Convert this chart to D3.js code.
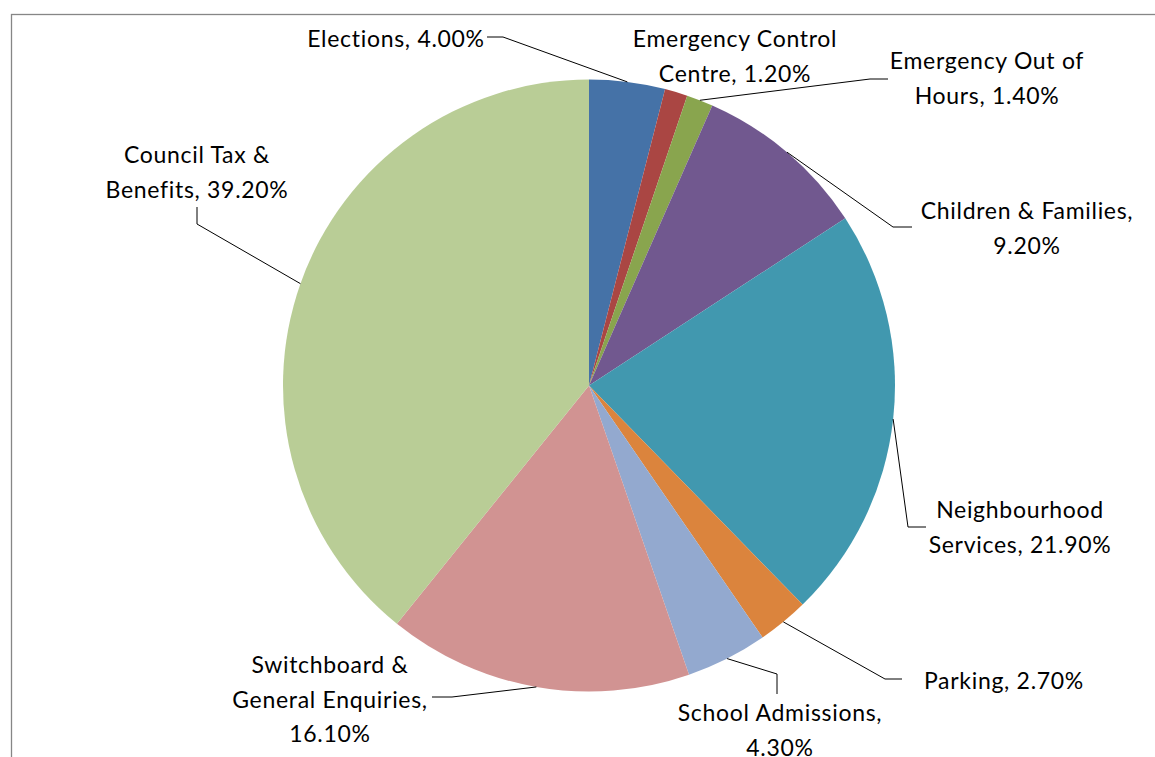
<!DOCTYPE html>
<html>
<head>
<meta charset="utf-8">
<script src="https://cdn.jsdelivr.net/npm/d3@7"></script>
<style>
  body { margin: 0; background: #fff; }
  svg { display: block; }
  text { font-family: Lato, "Open Sans", sans-serif; font-size: 23px; letter-spacing: 0.7px; fill: #000; }
</style>
</head>
<body>
<div id="chart"></div>
<script>
// service areas, in the order the slices run clockwise from 12 o'clock
const categories = ["Elections", "Emergency Control Centre", "Emergency Out of Hours",
  "Children & Families", "Neighbourhood Services", "Parking", "School Admissions",
  "Switchboard & General Enquiries", "Council Tax & Benefits"];
const shares = [4.0, 1.2, 1.4, 9.2, 21.9, 2.7, 4.3, 16.1, 39.2];
const labelLines = [
  ["Elections, 4.00%"],
  ["Emergency Control", "Centre, 1.20%"],
  ["Emergency Out of", "Hours, 1.40%"],
  ["Children & Families,", "9.20%"],
  ["Neighbourhood", "Services, 21.90%"],
  ["Parking, 2.70%"],
  ["School Admissions,", "4.30%"],
  ["Switchboard &", "General Enquiries,", "16.10%"],
  ["Council Tax &", "Benefits, 39.20%"]
];
const colors = ["#4572A7", "#AA4643", "#89A54E", "#71588F", "#4198AF",
  "#DB843D", "#93A9CF", "#D19392", "#B9CD96"];

// label placement: centre x, first line y, and leader [attach, elbow] points
const labelPos = [
  { x: 396, y: 39, lead: [[487, 37], [503, 37]] },
  { x: 735, y: 39, lead: null },
  { x: 987, y: 61, lead: [[888, 79], [870, 79]] },
  { x: 1027, y: 211, lead: [[912, 227], [893, 227]] },
  { x: 1020, y: 510, lead: [[926, 527], [908, 527]] },
  { x: 1004, y: 681, lead: [[902, 679], [885, 679]] },
  { x: 780, y: 713, lead: [[777, 694], [777, 674]] },
  { x: 330, y: 665, lead: [[432, 697], [452, 697]] },
  { x: 197, y: 155, lead: [[197, 207], [197, 224]] }
];

const width = 1155, height = 757;
const cx = 589, cy = 385.5, r = 306, lineH = 34.5;

const svg = d3.select("#chart").append("svg").attr("width", width).attr("height", height);

// chart frame (runs off the right and bottom of the picture)
svg.append("rect").attr("x", 11.5).attr("y", 14.5).attr("width", 1300).attr("height", 900)
  .attr("fill", "none").attr("stroke", "#868686").attr("stroke-width", 1.3);

const pie = d3.pie().sort(null).value(d => d);
const arcs = pie(shares);
const arc = d3.arc().innerRadius(0).outerRadius(r);
const edge = d3.arc().innerRadius(r).outerRadius(r);

const g = svg.append("g").attr("transform", `translate(${cx},${cy})`);
g.selectAll("path.slice")
  .data(arcs)
  .enter()
  .append("path")
  .attr("class", "slice")
  .attr("d", arc)
  .attr("fill", (d, i) => colors[i]);

// leader lines: label -> elbow -> middle of the slice edge
arcs.forEach((d, i) => {
  const p = labelPos[i];
  if (!p.lead) return;
  const c = edge.centroid(d);
  const pts = [p.lead[0], p.lead[1], [cx + c[0], cy + c[1]]];
  svg.append("path")
    .attr("d", d3.line()(pts))
    .attr("fill", "none")
    .attr("stroke", "#000")
    .attr("stroke-width", 1);
});

labelLines.forEach((lines, i) => {
  const p = labelPos[i];
  const t = svg.append("text").attr("text-anchor", "middle");
  lines.forEach((s, k) => {
    t.append("tspan")
      .attr("x", p.x)
      .attr("y", p.y + k * lineH)
      .attr("dy", "0.35em")
      .text(s);
  });
});
</script>
</body>
</html>
